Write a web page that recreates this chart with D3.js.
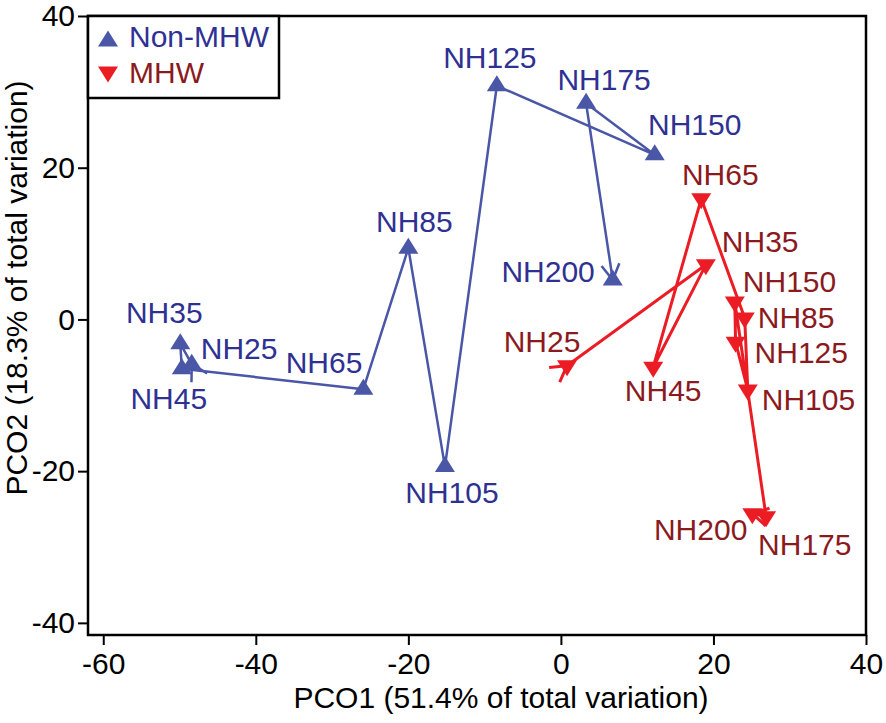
<!DOCTYPE html>
<html>
<head>
<meta charset="utf-8">
<script src="https://cdn.jsdelivr.net/npm/d3@7"></script>
<style>
  body { margin: 0; background: #fff; }
  svg { display: block; font-family: "Liberation Sans", Arial, Helvetica, sans-serif; }
</style>
</head>
<body>
<svg id="viz" width="886" height="723"></svg>
<script>
// values
const stations = ["NH25", "NH35", "NH45", "NH65", "NH85", "NH105", "NH125", "NH150", "NH175", "NH200"];
const nonMhwX = [-48.4, -49.9, -49.7, -25.9, -20.0, -15.2, -8.4, 12.3, 3.3, 6.8];
const nonMhwY = [-5.9, -3.2, -6.5, -9.2, 9.4, -19.4, 30.8, 21.7, 28.5, 5.2];
const mhwX = [0.8, 19.0, 12.1, 18.4, 24.1, 24.5, 22.9, 22.8, 26.9, 25.1];
const mhwY = [-6.1, 7.2, -6.3, 15.9, 0.2, -9.3, -3.0, 2.3, -26.0, -25.6];
const xTicks = [-60, -40, -20, 0, 20, 40];
const yTicks = [-40, -20, 0, 20, 40];
const groupNames = ["Non-MHW", "MHW"];

// label placement (pixel offsets from the point)
const nonMhwLabels = [
  ["start", 9, -5], ["middle", -16, -21], ["middle", -13, 40], ["end", -1, -16], ["middle", 6, -16],
  ["middle", 7, 36], ["middle", -7, -18], ["middle", 40, -20], ["middle", 18, -13], ["end", -18, 2]
];
const mhwLabels = [
  ["middle", -25, -14], ["start", 16, -13], ["middle", 10, 34], ["middle", 19, -14], ["start", 13, 10],
  ["start", 14, 20], ["start", 19, 21], ["start", 8, -10], ["start", -8, 38], ["end", -5, 26]
];

const svg = d3.select("#viz");
const plotL = 88, plotR = 866, plotT = 16, plotB = 635;

const x = d3.scaleLinear().domain([-62, 40]).range([plotL, plotR]);
const y = d3.scaleLinear().domain([-41.6, 40]).range([plotB, plotT]);

const series = [
  { name: groupNames[0], xs: nonMhwX, ys: nonMhwY, labels: nonMhwLabels, up: true,
    mark: "#4a56a6", ink: "#2e3192", lw: 2.5 },
  { name: groupNames[1], xs: mhwX, ys: mhwY, labels: mhwLabels, up: false,
    mark: "#ec1c24", ink: "#8b1a1e", lw: 3 }
];

// axes (plain hyphen for negatives, as in the figure)
const fmt = d => String(d);
const xAxis = svg.append("g")
  .attr("transform", `translate(0,${plotB})`)
  .call(d3.axisBottom(x).tickValues(xTicks).tickFormat(fmt).tickSize(10).tickPadding(8));
const yAxis = svg.append("g")
  .attr("transform", `translate(${plotL},0)`)
  .call(d3.axisLeft(y).tickValues(yTicks).tickFormat(fmt).tickSize(10).tickPadding(3));
[xAxis, yAxis].forEach(g => {
  g.select(".domain").remove();
  g.selectAll("line").attr("stroke", "#000").attr("stroke-width", 2);
  g.selectAll("text").attr("fill", "#000").style("font-size", "30px")
    .style("font-family", "'Liberation Sans', Arial, Helvetica, sans-serif");
});

svg.append("rect")
  .attr("x", plotL).attr("y", plotT)
  .attr("width", plotR - plotL).attr("height", plotB - plotT)
  .attr("fill", "none").attr("stroke", "#000").attr("stroke-width", 2.5);

svg.append("text")
  .attr("x", 501).attr("y", 708)
  .attr("text-anchor", "middle").attr("font-size", "30px")
  .text("PCO1 (51.4% of total variation)");

svg.append("text")
  .attr("transform", "translate(27,288) rotate(-90)")
  .attr("text-anchor", "middle").attr("font-size", "30px")
  .text("PCO2 (18.3% of total variation)");

function tri(up) {
  return up ? "M0,-10.5L10,5.5L-10,5.5Z" : "M0,10.5L10,-5.5L-10,-5.5Z";
}

// open arrow head at (px,py) pointing along angle a
function arrowHead(g, px, py, a, color, lw) {
  const len = 18, spread = Math.PI / 6;
  const back = a + Math.PI;
  const p1 = [px + len * Math.cos(back - spread), py + len * Math.sin(back - spread)];
  const p2 = [px + len * Math.cos(back + spread), py + len * Math.sin(back + spread)];
  g.append("path")
    .attr("d", `M${p1[0]},${p1[1]}L${px},${py}L${p2[0]},${p2[1]}`)
    .attr("fill", "none").attr("stroke", color).attr("stroke-width", lw);
}

series.forEach(s => {
  const pts = stations.map((n, i) => ({ name: n, px: x(s.xs[i]), py: y(s.ys[i]), lab: s.labels[i] }));
  const g = svg.append("g");

  g.append("path")
    .datum(pts)
    .attr("fill", "none")
    .attr("stroke", s.mark)
    .attr("stroke-width", s.lw)
    .attr("stroke-linejoin", "round")
    .attr("d", d3.line().x(d => d.px).y(d => d.py));

  const a0 = Math.atan2(pts[1].py - pts[0].py, pts[1].px - pts[0].px);
  arrowHead(g, pts[0].px, pts[0].py, a0, s.mark, s.lw);
  const n = pts.length;
  const a1 = Math.atan2(pts[n - 1].py - pts[n - 2].py, pts[n - 1].px - pts[n - 2].px);
  arrowHead(g, pts[n - 1].px, pts[n - 1].py, a1, s.mark, s.lw);

  g.selectAll(".pt")
    .data(pts)
    .join("path")
    .attr("transform", d => `translate(${d.px},${d.py})`)
    .attr("d", tri(s.up))
    .attr("fill", s.mark);

  g.selectAll(".lab")
    .data(pts)
    .join("text")
    .attr("x", d => d.px + d.lab[1])
    .attr("y", d => d.py + d.lab[2])
    .attr("text-anchor", d => d.lab[0])
    .attr("font-size", "30px")
    .attr("fill", s.ink)
    .text(d => d.name);
});

// legend
const legend = svg.append("g");
legend.append("rect")
  .attr("x", plotL).attr("y", plotT).attr("width", 191).attr("height", 82)
  .attr("fill", "#fff").attr("stroke", "#000").attr("stroke-width", 2.5);
series.forEach((s, i) => {
  legend.append("path")
    .attr("transform", `translate(108,${i === 0 ? 41 : 72})`)
    .attr("d", tri(s.up))
    .attr("fill", s.mark);
  legend.append("text")
    .attr("x", 129).attr("y", i === 0 ? 47 : 83)
    .attr("font-size", "30px")
    .attr("fill", s.ink)
    .text(s.name);
});
</script>
</body>
</html>
